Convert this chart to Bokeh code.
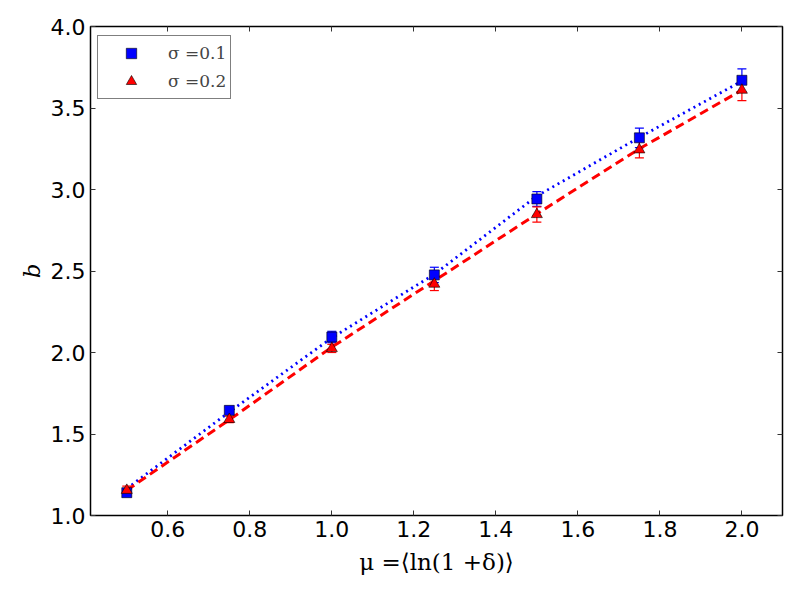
from bokeh.plotting import figure
from bokeh.models import (ColumnDataSource, Whisker, TeeHead, LinearAxis, FixedTicker,
                          Range1d, Legend, LegendItem)
from bokeh.embed import file_html
from bokeh.resources import INLINE

mu = [0.5, 0.75, 1.0, 1.25, 1.5, 1.75, 2.0]
b_s01 = [1.14, 1.645, 2.095, 2.476, 2.942, 3.317, 3.67]
err_s01 = [0.02, 0.02, 0.035, 0.047, 0.045, 0.06, 0.07]
b_s02 = [1.155, 1.59, 2.025, 2.42, 2.847, 3.244, 3.61]
err_s02 = [0.025, 0.02, 0.025, 0.04, 0.047, 0.05, 0.065]
fit_s01 = [1.165, 1.635, 2.09, 2.48, 2.96, 3.32, 3.665]
fit_s02 = [1.155, 1.587, 2.033, 2.44, 2.85, 3.25, 3.61]

x_ticks = [0.6, 0.8, 1.0, 1.2, 1.4, 1.6, 1.8, 2.0]
y_ticks = [1.0, 1.5, 2.0, 2.5, 3.0, 3.5, 4.0]
labels = ["σ =0.1", "σ =0.2"]

src1 = ColumnDataSource(dict(x=mu, y=b_s01, fit=fit_s01,
                             lo=[v - e for v, e in zip(b_s01, err_s01)],
                             hi=[v + e for v, e in zip(b_s01, err_s01)]))
src2 = ColumnDataSource(dict(x=mu, y=b_s02, fit=fit_s02,
                             lo=[v - e for v, e in zip(b_s02, err_s02)],
                             hi=[v + e for v, e in zip(b_s02, err_s02)]))

p = figure(width=792, height=584, output_backend="svg", toolbar_location=None,
           x_range=Range1d(0.4115, 2.099), y_range=Range1d(1.0, 4.0),
           frame_width=692, frame_height=489,
           min_border_left=90, min_border_right=10, min_border_top=26, min_border_bottom=69)
p.background_fill_color = "white"
p.border_fill_color = "white"
p.grid.visible = False
p.outline_line_color = "black"
p.outline_line_width = 1.5
p.outline_line_alpha = 1.0

for ax in (p.xaxis[0], p.yaxis[0]):
    ax.major_tick_in = 5
    ax.major_tick_out = 0
    ax.minor_tick_line_color = None
    ax.axis_line_color = None
    ax.major_tick_line_color = "#333333"
    ax.major_label_text_font = "DejaVu Sans"
    ax.major_label_text_font_size = "22px"
    ax.major_label_text_color = "black"
    ax.axis_label_text_font = "DejaVu Serif"
    ax.axis_label_text_font_size = "23px"
    ax.axis_label_text_color = "black"

p.xaxis[0].ticker = FixedTicker(ticks=x_ticks)
p.yaxis[0].ticker = FixedTicker(ticks=y_ticks)
p.xaxis[0].major_label_overrides = {t: f"{t:.1f}" for t in x_ticks}
p.yaxis[0].major_label_overrides = {t: f"{t:.1f}" for t in y_ticks}
p.xaxis[0].axis_label = "μ =⟨ln(1 +δ)⟩"
p.xaxis[0].axis_label_text_font_style = "normal"
p.xaxis[0].major_label_standoff = 5
p.xaxis[0].axis_label_standoff = 9
p.yaxis[0].axis_label = "b"
p.yaxis[0].axis_label_text_font_style = "italic"
p.yaxis[0].major_label_standoff = 5
p.yaxis[0].axis_label_standoff = 3

top = LinearAxis(ticker=FixedTicker(ticks=x_ticks),
                 major_label_overrides={t: "" for t in x_ticks},
                 major_tick_in=5, major_tick_out=0, minor_tick_line_color=None,
                 axis_line_color=None, major_tick_line_color="#333333")
right = LinearAxis(ticker=FixedTicker(ticks=y_ticks),
                   major_label_overrides={t: "" for t in y_ticks},
                   major_tick_in=5, major_tick_out=0, minor_tick_line_color=None,
                   axis_line_color=None, major_tick_line_color="#333333")
p.add_layout(top, "above")
p.add_layout(right, "right")

p.line("x", "fit", source=src1, line_color="blue", line_width=2.8, line_dash="2 4")
p.line("x", "fit", source=src2, line_color="red", line_width=3, line_dash="9 5")

for src, col in ((src1, "blue"), (src2, "red")):
    w = Whisker(source=src, base="x", lower="lo", upper="hi", line_color=col, line_width=1.2,
                upper_head=TeeHead(size=9, line_color=col, line_width=1.2),
                lower_head=TeeHead(size=9, line_color=col, line_width=1.2))
    p.add_layout(w)

r1 = p.scatter("x", "y", source=src1, marker="square", size=10, fill_color="blue",
               line_color="black", line_width=0.6)
r2 = p.scatter("x", "y", source=src2, marker="triangle", size=11, fill_color="red",
               line_color="black", line_width=0.6)

legend = Legend(items=[LegendItem(label=labels[0], renderers=[r1]),
                       LegendItem(label=labels[1], renderers=[r2])],
                location=(7, 416), margin=0, padding=4, spacing=2,
                glyph_width=58, glyph_height=26, label_standoff=8,
                label_text_font="DejaVu Serif", label_text_font_size="17px",
                border_line_color="black", border_line_width=1.5,
                background_fill_color="white", background_fill_alpha=1.0)
p.add_layout(legend)

open("out.html", "w").write(file_html(p, INLINE))
